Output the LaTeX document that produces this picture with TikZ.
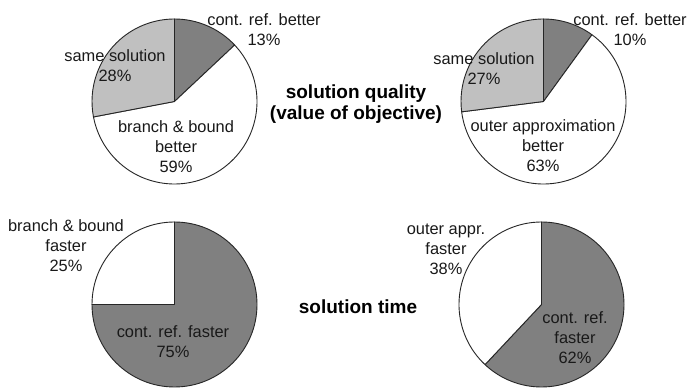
\documentclass[tikz,border=0pt]{standalone}
\usepackage{fontspec}
\setmainfont{Liberation Sans}
\definecolor{darkwedge}{HTML}{808080}
\definecolor{lightwedge}{HTML}{C0C0C0}
% one pie wedge: centre, radius, start angle, end angle, fill colour
\newcommand\drawslice[5]{%
  \filldraw[wedge, fill=#5] (#1) -- ++(#3:#2)
    arc[start angle=#3, end angle=#4, radius=#2] -- cycle;}
\begin{document}
\begin{tikzpicture}[x=1pt,y=1pt,
  wedge/.style={draw=black!85, line width=0.9pt, line join=round},
  lbl/.style={font=\fontsize{16.4}{20}\selectfont, align=center, inner sep=0pt, text=black!90},
  ttl/.style={font=\fontsize{19}{21}\selectfont\bfseries, align=center, inner sep=0pt}]
\fill[white] (0,0) rectangle (688,388);
\useasboundingbox (0,0) rectangle (688,388);

\def\R{82.5}
\coordinate (qb) at (174.5,286.5); % quality: branch & bound
\coordinate (qo) at (543.5,286.5); % quality: outer approximation
\coordinate (tb) at (174.5,83.5);  % time: branch & bound
\coordinate (to) at (541.5,83.5);  % time: outer approximation

% solution quality, branch & bound
\drawslice{qb}{\R}{90}{43.2}{darkwedge}
\drawslice{qb}{\R}{43.2}{-169.2}{white}
\drawslice{qb}{\R}{190.8}{90}{lightwedge}
% solution quality, outer approximation
\drawslice{qo}{\R}{90}{54}{darkwedge}
\drawslice{qo}{\R}{54}{-172.8}{white}
\drawslice{qo}{\R}{187.2}{90}{lightwedge}
% solution time, branch & bound
\drawslice{tb}{\R}{90}{-180}{darkwedge}
\drawslice{tb}{\R}{180}{90}{white}
% solution time, outer approximation
\drawslice{to}{\R}{90}{-133.2}{darkwedge}
\drawslice{to}{\R}{226.8}{90}{white}

% labels
\node[lbl] (qbc) at (264,358.5) {cont. ref. better\\13\%};
\node[lbl] (qbs) at (115,322) {same solution\\28\%};
\node[lbl] (qbb) at (176,241.5) {branch \& bound\\better\\59\%};

\node[lbl] (qoc) at (630,358.5) {cont. ref. better\\10\%};
\node[lbl] (qos) at (484,319) {same solution\\27\%};
\node[lbl] (qoo) at (543,242.5) {outer approximation\\better\\63\%};

\node[lbl] (tbb) at (66,142) {branch \& bound\\faster\\25\%};
\node[lbl] (tbc) at (173,46) {cont. ref. faster\\75\%};

\node[lbl] (too) at (446,138.5) {outer appr.\\faster\\38\%};
\node[lbl] (toc) at (575,50.5) {cont. ref.\\faster\\62\%};

% row titles
\node[ttl] (quality) at (356,283.5) {solution quality\\(value of objective)};
\node[ttl] (time) at (358,81) {solution time};
\end{tikzpicture}
\end{document}
